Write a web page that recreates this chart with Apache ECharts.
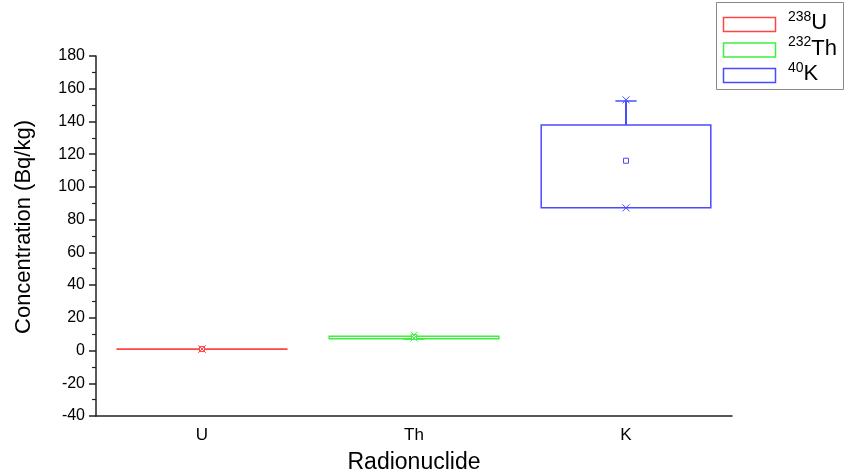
<!DOCTYPE html>
<html>
<head>
<meta charset="utf-8">
<script src="https://cdn.jsdelivr.net/npm/echarts@6/dist/echarts.min.js"></script>
<style>
  html, body { margin: 0; padding: 0; background: #fff; }
  #chart { width: 846px; height: 471px; }
</style>
</head>
<body>
<div id="chart"></div>
<script>
// Radionuclide activity concentrations (Bq/kg), box statistics per nuclide
const categories = ['U', 'Th', 'K'];
const massNumbers = ['238', '232', '40'];
const symbols = ['U', 'Th', 'K'];
const colors = ['#ff4545', '#3fef3f', '#4a4aff'];

const whiskerLow = [0.8, 7.0, 87.2];
const boxLow = [0.8, 7.2, 87.2];
const medians = [0.9, 8.0, 87.2];
const boxHigh = [0.9, 8.8, 137.8];
const whiskerHigh = [0.9, 8.8, 152.5];
const means = [0.9, 8.3, 116.0];
const pctLow = [0.9, 7.6, 87.2];
const pctHigh = [0.9, 9.4, 153.2];

const yTicks = { min: -40, max: 180, step: 20 };

const rows = categories.map((c, i) => [
  i, whiskerLow[i], boxLow[i], medians[i], boxHigh[i], whiskerHigh[i],
  means[i], pctLow[i], pctHigh[i]
]);

function renderBox(params, api) {
  const i = api.value(0);
  const col = colors[i];
  const band = api.size([1, 0])[0];
  const half = band * 0.4;
  const capHalf = band * 0.05;
  const cx = api.coord([i, 0])[0];
  const y = v => api.coord([i, v])[1];
  const wl = api.value(1), q1 = api.value(2), med = api.value(3),
        q3 = api.value(4), wh = api.value(5), mean = api.value(6),
        lo = api.value(7), hi = api.value(8);
  const stroke = { stroke: col, lineWidth: 1.5, fill: null };
  const children = [];
  children.push({
    type: 'rect',
    shape: { x: cx - half, y: y(q3), width: half * 2, height: Math.max(y(q1) - y(q3), 0.01) },
    style: { stroke: col, lineWidth: 1.5, fill: 'rgba(0,0,0,0)' }
  });
  if (wh > q3) {
    children.push({ type: 'line', shape: { x1: cx, y1: y(q3), x2: cx, y2: y(wh) }, style: { stroke: col, lineWidth: 2 } });
    children.push({ type: 'line', shape: { x1: cx - capHalf, y1: y(wh), x2: cx + capHalf, y2: y(wh) }, style: stroke });
  }
  if (wl < q1) {
    children.push({ type: 'line', shape: { x1: cx, y1: y(q1), x2: cx, y2: y(wl) }, style: { stroke: col, lineWidth: 2 } });
    children.push({ type: 'line', shape: { x1: cx - capHalf, y1: y(wl), x2: cx + capHalf, y2: y(wl) }, style: stroke });
  }
  // mean: small open square
  children.push({
    type: 'rect',
    shape: { x: cx - 2.5, y: y(mean) - 2.5, width: 5, height: 5 },
    style: { stroke: col, lineWidth: 1, fill: '#fff' }
  });
  // percentile markers: crosses
  [lo, hi].forEach(v => {
    const yy = y(v), r = 3.5;
    children.push({ type: 'line', shape: { x1: cx - r, y1: yy - r, x2: cx + r, y2: yy + r }, style: { stroke: col, lineWidth: 1 } });
    children.push({ type: 'line', shape: { x1: cx - r, y1: yy + r, x2: cx + r, y2: yy - r }, style: { stroke: col, lineWidth: 1 } });
  });
  return { type: 'group', children };
}

// Legend frame with outlined swatches and superscripted nuclide names
const legendGraphics = [{
  type: 'rect',
  shape: { x: 716.5, y: 2.5, width: 127, height: 87 },
  style: { fill: '#fff', stroke: '#888', lineWidth: 1 }
}];
massNumbers.forEach((m, i) => {
  const top = 17 + i * 25.5;
  legendGraphics.push({
    type: 'rect',
    shape: { x: 723.5, y: top + 0.5, width: 52, height: 14 },
    style: { fill: 'rgba(0,0,0,0)', stroke: colors[i], lineWidth: 1.5 }
  });
  legendGraphics.push({
    type: 'text',
    x: 788, y: top + 17,
    style: {
      text: '{s|' + m + '}{m|' + symbols[i] + '}',
      verticalAlign: 'bottom',
      fill: '#000',
      rich: {
        s: { fontSize: 14, fontFamily: 'Liberation Sans, Arial', verticalAlign: 'top', lineHeight: 24, padding: [0, 0, 8, 0] },
        m: { fontSize: 22, fontFamily: 'Liberation Sans, Arial', verticalAlign: 'bottom', lineHeight: 24 }
      }
    }
  });
});

const chart = echarts.init(document.getElementById('chart'), null, { renderer: 'canvas' });
chart.setOption({
  animation: false,
  backgroundColor: '#fff',
  textStyle: { fontFamily: 'Liberation Sans, Arial, sans-serif' },
  grid: { left: 96, right: 114, top: 56, bottom: 55, containLabel: false, outerBoundsMode: 'none' },
  xAxis: {
    type: 'category',
    data: categories,
    boundaryGap: true,
    name: 'Radionuclide',
    nameLocation: 'middle',
    nameGap: 35,
    nameTextStyle: { fontSize: 23, color: '#000' },
    axisLine: { onZero: false, lineStyle: { color: '#222', width: 1.5 } },
    axisTick: { alignWithLabel: true, length: 6, lineStyle: { color: '#222', width: 1.5 } },
    axisLabel: { fontSize: 17, color: '#000', margin: 11 },
    splitLine: { show: false }
  },
  yAxis: {
    type: 'value',
    min: yTicks.min,
    max: yTicks.max,
    interval: yTicks.step,
    name: 'Concentration (Bq/kg)',
    nameLocation: 'middle',
    nameRotate: 90,
    nameGap: 61,
    nameTextStyle: { fontSize: 22, color: '#000', padding: [0, 0, 0, 18] },
    axisLine: { show: true, lineStyle: { color: '#222', width: 1.5 } },
    axisTick: { show: true, length: 7, lineStyle: { color: '#222', width: 1.5 } },
    minorTick: { show: true, splitNumber: 2, length: 4, lineStyle: { color: '#222', width: 1.2 } },
    axisLabel: { fontSize: 16, color: '#000', margin: 11 },
    splitLine: { show: false }
  },
  series: [{
    type: 'custom',
    renderItem: renderBox,
    data: rows,
    encode: { x: 0, y: [1, 5] },
    clip: false
  }],
  graphic: legendGraphics
});
</script>
</body>
</html>
